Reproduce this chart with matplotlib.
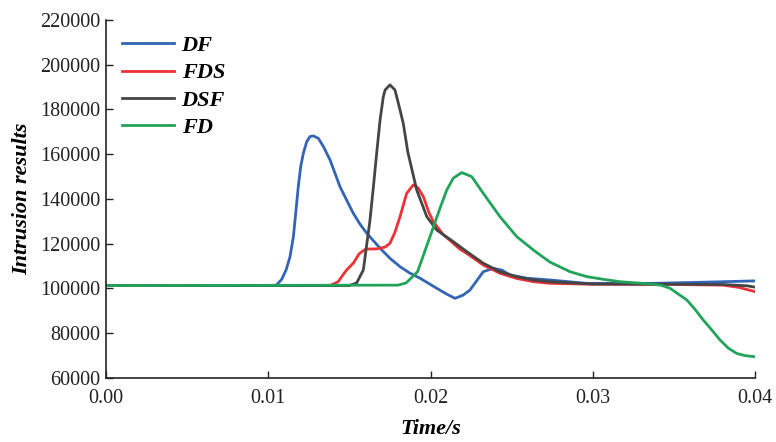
import matplotlib.pyplot as plt

# time axis (s) and intrusion values
t_df = [0, 0.0100, 0.0105, 0.01083, 0.0111, 0.01134, 0.01155, 0.01169, 0.01185, 0.0120,
        0.01216, 0.01237, 0.01257, 0.01278, 0.01309, 0.0134, 0.01381, 0.01442, 0.0149,
        0.01524, 0.01565, 0.01607, 0.01689, 0.0175, 0.01812, 0.0187, 0.01935,
        0.02038, 0.0210, 0.02151, 0.0220, 0.02243, 0.0229, 0.02325, 0.02387, 0.0244,
        0.0249, 0.02593, 0.02736, 0.0296, 0.0337, 0.0368, 0.0400]
v_df = [101300, 101300, 101500, 104100, 108300, 114200, 123200, 133600, 145500, 154500,
        160400, 165600, 167900, 168200, 167100, 163400, 157400, 145500, 138500,
        133600, 128800, 124700, 118000, 113500, 109750, 107000, 104600,
        100100, 97500, 95600, 97000, 99300, 104000, 107500, 109000, 108200,
        106000, 104600, 103800, 102300, 102300, 102800, 103400]

t_fds = [0, 0.0138, 0.0143, 0.01483, 0.01524, 0.0156, 0.0160, 0.01668, 0.0172, 0.0175,
         0.0178, 0.01812, 0.01853, 0.01894, 0.01925, 0.01956, 0.0199, 0.02017, 0.02079,
         0.0212, 0.02182, 0.02223, 0.02325, 0.02428, 0.0253, 0.02634, 0.02736, 0.0300,
         0.0350, 0.0380, 0.0390, 0.0400]
v_fds = [101300, 101300, 103000, 108300, 111300, 115500, 117600, 117700, 118500, 120200,
         125000, 132100, 142500, 146300, 144800, 141000, 134000, 129900, 124000,
         121500, 117500, 115700, 110500, 106800, 104500, 103050, 102300, 101900,
         101800, 101500, 100500, 98600]

t_dsf = [0, 0.0150, 0.01545, 0.01586, 0.01627, 0.01648, 0.01668, 0.01689, 0.01709, 0.0172,
         0.0175, 0.01781, 0.01812, 0.01832, 0.0186, 0.01915, 0.01977, 0.02038, 0.02141,
         0.02223, 0.02325, 0.02428, 0.0253, 0.02634, 0.02736, 0.0300, 0.0350, 0.0380,
         0.0395, 0.0400]
v_dsf = [101300, 101300, 102500, 108300, 130600, 145500, 160400, 175300, 185700, 188700,
         191000, 188700, 179800, 173800, 161000, 144000, 132100, 126150, 120900,
         116500, 111300, 107500, 105300, 103800, 103000, 102000, 101900, 101800,
         101200, 100600]

t_fd = [0, 0.0180, 0.0185, 0.0192, 0.01997, 0.02059, 0.0210, 0.0214, 0.02192, 0.02254,
        0.02325, 0.02428, 0.02531, 0.02634, 0.02675, 0.02736, 0.0286, 0.02963, 0.03065,
        0.03168, 0.03373, 0.03424, 0.03476, 0.03579, 0.0363, 0.03681, 0.03733, 0.03784,
        0.03836, 0.03887, 0.03938, 0.0400]
v_fd = [101300, 101500, 102500, 107500, 123200, 136000, 144000, 149300, 151800, 150000,
        142550, 132100, 123200, 117200, 115000, 111800, 107500, 105300, 104100,
        103050, 101900, 101400, 100100, 94900, 90700, 85900, 81500, 77000,
        73300, 71000, 70000, 69500]

series = [
    ("DF", t_df, v_df, "#3265b5"),
    ("FDS", t_fds, v_fds, "#ec3237"),
    ("DSF", t_dsf, v_dsf, "#454545"),
    ("FD", t_fd, v_fd, "#22a35a"),
]

x_ticks = [0.00, 0.01, 0.02, 0.03, 0.04]
y_ticks = list(range(60000, 220001, 20000))

plt.rcParams["font.family"] = ["Liberation Serif", "DejaVu Serif"]

fig = plt.figure(figsize=(7.76, 4.42), dpi=100)
ax = fig.add_axes([0.1366, 0.1448, 0.8364, 0.81])

for name, t, v, color in series:
    ax.plot(t, v, color=color, linewidth=2.0, label=name, solid_joinstyle="round")

ax.set_xlim(0, 0.04)
ax.set_ylim(60000, 220000)
ax.set_xticks(x_ticks)
ax.set_xticklabels([f"{x:.2f}" for x in x_ticks])
ax.set_yticks(y_ticks)
ax.tick_params(direction="in", length=5, width=1, labelsize=14.5, colors="#222222")
ax.tick_params(axis="x", pad=8)
ax.tick_params(axis="y", pad=4)
for side in ("top", "right"):
    ax.spines[side].set_visible(False)
for side in ("left", "bottom"):
    ax.spines[side].set_linewidth(1.2)
    ax.spines[side].set_color("#222222")

ax.set_xlabel("Time/s", fontsize=16, fontweight="bold", fontstyle="italic", labelpad=8)
ax.set_ylabel("Intrusion results", fontsize=16, fontweight="bold", fontstyle="italic", labelpad=6)

leg = ax.legend(loc="upper left", bbox_to_anchor=(0.0, 1.0), frameon=False,
                prop={"size": 16, "weight": "bold", "style": "italic"},
                handlelength=2.35, handletextpad=0.35, labelspacing=0.3, borderpad=0.2)

fig.savefig("out.png", dpi=100)
